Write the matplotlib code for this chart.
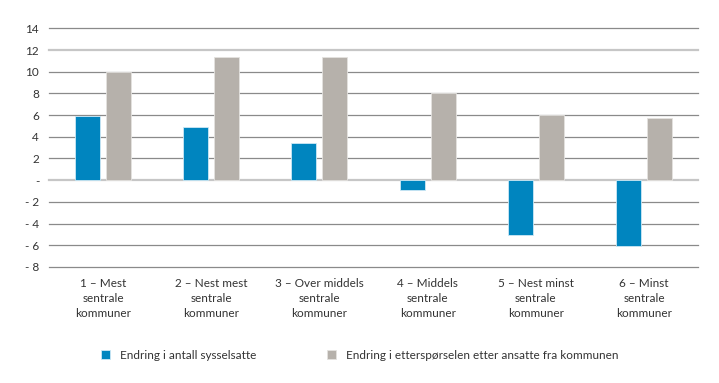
import numpy as np
import matplotlib.pyplot as plt

# Data
categories = [
    "1 – Mest\nsentrale\nkommuner",
    "2 – Nest mest\nsentrale\nkommuner",
    "3 – Over middels\nsentrale\nkommuner",
    "4 – Middels\nsentrale\nkommuner",
    "5 – Nest minst\nsentrale\nkommuner",
    "6 – Minst\nsentrale\nkommuner",
]
sysselsatte = [5.9, 4.9, 3.4, -0.95, -5.1, -6.1]
ettersporsel = [10.0, 11.35, 11.35, 8.0, 6.0, 5.75]
yticks = [-8, -6, -4, -2, 0, 2, 4, 6, 8, 10, 12, 14]
ytick_labels = ["- 8", "- 6", "- 4", "- 2", "-", "2", "4", "6", "8", "10", "12", "14"]

blue = "#0085bf"
grey = "#b6b1ab"

plt.rcParams['font.family'] = ['Lato', 'DejaVu Sans']

fig = plt.figure(figsize=(7.19, 3.83), dpi=100)
ax = fig.add_axes([0.068, 0.303, 0.903, 0.623])

x = np.arange(len(categories))
w = 0.23
ax.bar(x - 0.143, sysselsatte, w, color=blue, edgecolor="#cde8f5", linewidth=0.6,
       label="Endring i antall sysselsatte", zorder=3)
ax.bar(x + 0.143, ettersporsel, w, color=grey, edgecolor="#e4e2df", linewidth=0.6,
       label="Endring i etterspørselen etter ansatte fra kommunen", zorder=3)

# gridlines
for t in yticks:
    if t in (0, 12):
        ax.axhline(t, color="#c6c6c6", linewidth=1.6, zorder=1, clip_on=False)
    else:
        ax.axhline(t, color="#8a8a8a", linewidth=0.9, zorder=1, clip_on=False)

ax.set_xlim(-0.5, len(categories) - 0.5)
ax.set_ylim(-8, 14)
ax.set_yticks(yticks)
ax.set_yticklabels(ytick_labels, fontsize=8.5, color="#333333")
ax.set_xticks(x)
ax.set_xticklabels(categories, fontsize=8.5, color="#333333", linespacing=1.45)
ax.tick_params(length=0, pad=7)
ax.tick_params(axis='x', pad=8)
for s in ax.spines.values():
    s.set_visible(False)

fig.legend(loc="lower center", bbox_to_anchor=(0.5, 0.03), ncol=2, frameon=False,
           fontsize=8.5, handlelength=0.8, handleheight=0.8, columnspacing=6,
           handletextpad=0.8, labelcolor="#333333")

plt.savefig("out.png", dpi=100)
plt.close()
